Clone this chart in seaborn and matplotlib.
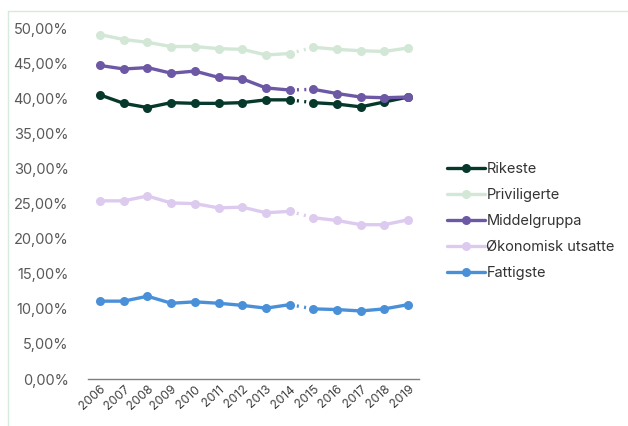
import matplotlib
matplotlib.use("Agg")
import matplotlib.pyplot as plt
from matplotlib.lines import Line2D
from matplotlib.ticker import FuncFormatter
import numpy as np
import pandas as pd
import seaborn as sns

years = [2006, 2007, 2008, 2009, 2010, 2011, 2012, 2013, 2014,
         2015, 2016, 2017, 2018, 2019]
groups = ["Rikeste", "Priviligerte", "Middelgruppa", "Økonomisk utsatte", "Fattigste"]
rikeste = [40.5, 39.3, 38.7, 39.4, 39.3, 39.3, 39.4, 39.8, 39.8, 39.4, 39.2, 38.8, 39.5, 40.2]
priviligerte = [49.1, 48.4, 48.0, 47.4, 47.4, 47.1, 47.0, 46.2, 46.4, 47.3, 47.0, 46.8, 46.7, 47.2]
middelgruppa = [44.7, 44.2, 44.4, 43.6, 43.9, 43.0, 42.8, 41.5, 41.2, 41.3, 40.7, 40.2, 40.1, 40.2]
okonomisk_utsatte = [25.4, 25.4, 26.1, 25.1, 25.0, 24.4, 24.5, 23.7, 23.9, 23.0, 22.6, 22.0, 22.0, 22.7]
fattigste = [11.1, 11.1, 11.8, 10.8, 11.0, 10.8, 10.5, 10.1, 10.6, 10.0, 9.9, 9.7, 10.0, 10.6]
series = [rikeste, priviligerte, middelgruppa, okonomisk_utsatte, fattigste]
colors = ["#06392b", "#d3e7d6", "#6d58a6", "#dccbef", "#4a90d9"]
break_after = 2014

sns.set_style("white")
plt.rcParams["font.family"] = ["Inter", "DejaVu Sans"]

rows = []
for g, vals in zip(groups, series):
    for i, (y, v) in enumerate(zip(years, vals)):
        rows.append({"pos": i, "year": y, "group": g, "share": v / 100})
df = pd.DataFrame(rows)
palette = dict(zip(groups, colors))

fig = plt.figure(figsize=(6.28, 4.26), dpi=100)
ax = fig.add_axes([88 / 628, 1 - 379 / 426, 331 / 628, (379 - 28.3) / 426])

# light frame along the top and left edges of the chart area
frame_kw = dict(transform=fig.transFigure, color="#d8eadb", linewidth=1.0, zorder=0)
fig.lines.append(Line2D([7.5 / 628, 1.0], [1 - 10.5 / 426] * 2, **frame_kw))
fig.lines.append(Line2D([7.5 / 628] * 2, [0.0, 1 - 10.5 / 426], **frame_kw))

first = df[df["year"] <= break_after]
second = df[df["year"] > break_after]
bridge = df[df["year"].isin([break_after, break_after + 1])]

line_kw = dict(x="pos", y="share", hue="group", palette=palette, hue_order=groups,
               legend=False, ax=ax, linewidth=2.4)
for part in (first, second):
    sns.lineplot(data=part, marker="o", markersize=6.5, markeredgewidth=0, **line_kw)
sns.lineplot(data=bridge, linestyle=(0, (0.6, 1.6)), **line_kw)

ax.set_ylim(0, 0.5)
ax.set_xlim(-0.51, 13.46)
ax.set_yticks(np.arange(0, 0.5001, 0.05))
ax.yaxis.set_major_formatter(FuncFormatter(lambda v, _: f"{v * 100:.2f}%".replace(".", ",")))
ax.set_xticks(range(len(years)))
ax.set_xticklabels([str(y) for y in years], rotation=42, ha="right",
                   rotation_mode="anchor", fontsize=8.8, color="#404040")
ax.tick_params(axis="y", labelsize=10.5, colors="#595959", length=0, pad=14)
ax.tick_params(axis="x", length=0, pad=3)
ax.set_xlabel("")
ax.set_ylabel("")
for side in ("top", "right", "left"):
    ax.spines[side].set_visible(False)
ax.spines["bottom"].set_color("#7f7f7f")
ax.spines["bottom"].set_linewidth(1.0)

handles = [Line2D([0], [0], color=c, linewidth=2.4, marker="o", markersize=6.5,
                  markeredgewidth=0) for c in colors]
fig.legend(handles, groups, loc="center left", bbox_to_anchor=(441 / 628, 1 - 221 / 426),
           frameon=False, fontsize=10.5, handlelength=2.6, handletextpad=0.12,
           labelspacing=0.82, labelcolor="#333333", borderaxespad=0)

fig.savefig("out.png", dpi=100)
